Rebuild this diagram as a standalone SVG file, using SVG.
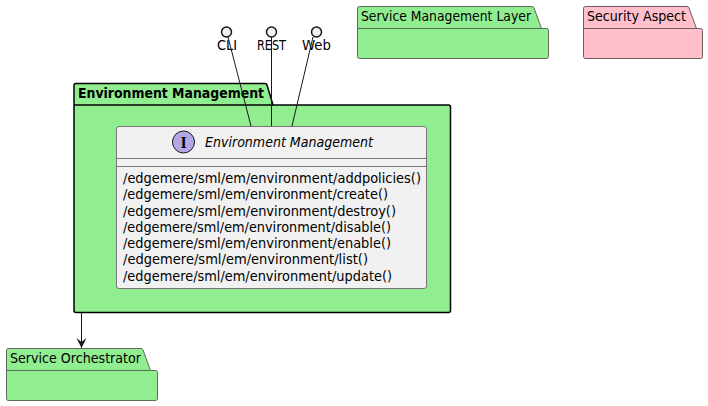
<svg xmlns="http://www.w3.org/2000/svg" width="708" height="406" viewBox="0 0 708 406">
<style>
text{font-family:"DejaVu Sans",sans-serif;font-size:14px;fill:#000}
.pk{stroke:#5c6b5c;stroke-width:1;fill:#90EE90}
.pn{stroke:#6b5c60;stroke-width:1;fill:#FFC0CB}
.sep{stroke:#5c6b5c;stroke-width:1;fill:none}
.ln{stroke:#181818;stroke-width:1;fill:none}
.ic{fill:#F1F1F1;stroke:#181818;stroke-width:1.5}
.cl{fill:#F1F1F1;stroke:#777;stroke-width:1}
</style>
<defs>
<marker id="arr" markerUnits="userSpaceOnUse" markerWidth="12" markerHeight="12" refX="10" refY="5" orient="auto"><path d="M0,0L10,5L0,10L4,5Z" fill="#181818"/></marker>
</defs>
<rect width="708" height="406" fill="#fff"/>
<g id="env-package">
<path d="M76,83.500H265Q266.500,83.500 267,85L273,105H448.500Q450.500,105 450.500,107V310.500Q450.500,312.500 448.500,312.500H76Q74,312.500 74,310.500V85.500Q74,83.500 76,83.500Z" fill="#90EE90" stroke="#000" stroke-width="1.500"/>
<path d="M74,105H273" stroke="#000" stroke-width="1.500" fill="none"/>
<text x="78" y="98" font-weight="700" textLength="186" lengthAdjust="spacingAndGlyphs">Environment Management</text>
</g>
<g id="cli"><circle cx="226.500" cy="32" r="5" class="ic"/><text x="217" y="50" textLength="20" lengthAdjust="spacingAndGlyphs">CLI</text></g>
<g id="rest"><circle cx="271.500" cy="32" r="5" class="ic"/><text x="257" y="50" textLength="29" lengthAdjust="spacingAndGlyphs">REST</text></g>
<g id="web"><circle cx="316.500" cy="32" r="5" class="ic"/><text x="302" y="50" textLength="29" lengthAdjust="spacingAndGlyphs">Web</text></g>
<g id="interface">
<rect x="116.500" y="126.500" width="310" height="162" rx="2.500" class="cl"/>
<path d="M116.500,158.500H426.500M116.500,166.500H426.500" stroke="#777" stroke-width="1" fill="none"/>
<circle cx="183.500" cy="142" r="11" fill="#B4A7E5" stroke="#181818" stroke-width="1"/>
<text x="183.500" y="147.500" text-anchor="middle" style="font-family:'Liberation Serif',serif;font-size:16px;font-weight:700">I</text>
<text x="205" y="147" font-style="italic" textLength="168" lengthAdjust="spacingAndGlyphs">Environment Management</text>
<g>
<text x="123" y="183" textLength="298" lengthAdjust="spacingAndGlyphs">/edgemere/sml/em/environment/addpolicies()</text>
<text x="123" y="199" textLength="265" lengthAdjust="spacingAndGlyphs">/edgemere/sml/em/environment/create()</text>
<text x="123" y="216" textLength="273" lengthAdjust="spacingAndGlyphs">/edgemere/sml/em/environment/destroy()</text>
<text x="123" y="232" textLength="268" lengthAdjust="spacingAndGlyphs">/edgemere/sml/em/environment/disable()</text>
<text x="123" y="248" textLength="268" lengthAdjust="spacingAndGlyphs">/edgemere/sml/em/environment/enable()</text>
<text x="123" y="264" textLength="245" lengthAdjust="spacingAndGlyphs">/edgemere/sml/em/environment/list()</text>
<text x="123" y="281" textLength="269" lengthAdjust="spacingAndGlyphs">/edgemere/sml/em/environment/update()</text>
</g>
</g>
<g id="service-management-layer">
<path d="M359.500,6.500H532Q533.500,6.500 534,8L541.500,28.500H546.500Q548.500,28.500 548.500,30.500V56.500Q548.500,58.500 546.500,58.500H359.500Q357.500,58.500 357.500,56.500V8.500Q357.500,6.500 359.500,6.500Z" class="pk"/>
<path d="M357.500,28.500H541.500" class="sep"/>
<text x="361" y="21" textLength="170" lengthAdjust="spacingAndGlyphs">Service Management Layer</text>
</g>
<g id="security-aspect">
<path d="M585.500,6.500H687Q688.500,6.500 689,8L696.500,28.500H700.500Q702.500,28.500 702.500,30.500V56.500Q702.500,58.500 700.500,58.500H585.500Q583.500,58.500 583.500,56.500V8.500Q583.500,6.500 585.500,6.500Z" class="pn"/>
<path d="M583.500,28.500H696.500" stroke="#6b5c60" fill="none"/>
<text x="587" y="21" textLength="99" lengthAdjust="spacingAndGlyphs">Security Aspect</text>
</g>
<g id="service-orchestrator">
<path d="M8.500,348.500H141Q142.500,348.500 143,350L150.500,370.500H155.500Q157.500,370.500 157.500,372.500V398.500Q157.500,400.500 155.500,400.500H8.500Q6.500,400.500 6.500,398.500V350.500Q6.500,348.500 8.500,348.500Z" class="pk"/>
<path d="M6.500,370.500H150.500" class="sep"/>
<text x="10" y="363" textLength="131" lengthAdjust="spacingAndGlyphs">Service Orchestrator</text>
</g>
<g id="connectors">
<path d="M228,37L251,126" class="ln"/>
<path d="M271.500,37V126" class="ln"/>
<path d="M313,37L292,126" class="ln"/>
<path d="M81.500,313V348" class="ln" marker-end="url(#arr)"/>
</g>
</svg>
